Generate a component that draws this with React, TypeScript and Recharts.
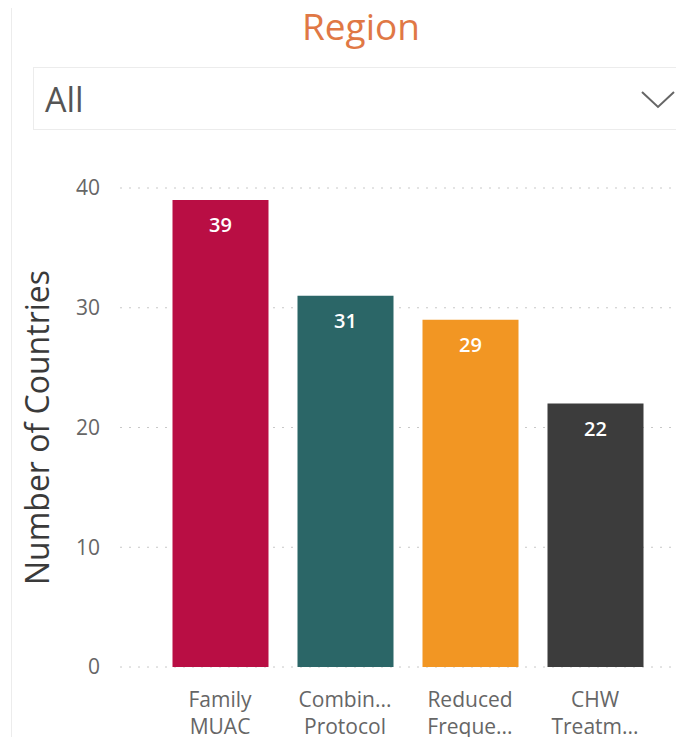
import React from "react";
import { BarChart, Bar, XAxis, YAxis, CartesianGrid, LabelList, Cell, Label } from "recharts";

const categories = ["Family MUAC", "Combin... Protocol", "Reduced Freque...", "CHW Treatm..."];
const line1 = ["Family", "Combin...", "Reduced", "CHW"];
const line2 = ["MUAC", "Protocol", "Freque...", "Treatm..."];
const values = [39, 31, 29, 22];
const colors = ["#B90E44", "#2B6667", "#F29623", "#3C3C3C"];
const yTicks = [0, 10, 20, 30, 40];

const data = categories.map((c, i) => ({ name: c, l1: line1[i], l2: line2[i], value: values[i] }));

const FONT = "'Open Sans', 'Noto Sans', sans-serif";

const XTick = (props: any) => {
  const { x, y, payload, index } = props;
  const d = data[index] || data.find((r) => r.name === payload.value);
  return (
    <g transform={`translate(${x},${y})`}>
      <text textAnchor="middle" fill="#666" fontSize={21} fontFamily={FONT}>
        <tspan x={0} y={32}>{d ? d.l1 : ""}</tspan>
        <tspan x={0} y={59}>{d ? d.l2 : ""}</tspan>
      </text>
    </g>
  );
};

export default function App() {
  return (
    <div style={{ position: "relative", width: 684, height: 745, margin: -8, background: "#fff", overflow: "hidden", fontFamily: FONT }}>
      <div style={{ position: "absolute", left: 0, top: 0, width: 3, height: 690, background: "#cfcfcf" }} />
      <div style={{ position: "absolute", left: 11, top: 0, width: 1, height: 745, background: "#ececec" }} />
      <div style={{ position: "absolute", left: 0, top: 4, width: 684, paddingLeft: 38, boxSizing: "border-box", textAlign: "center", color: "#E07845", fontSize: 37, lineHeight: "44px" }}>
        Region
      </div>
      <div style={{ position: "absolute", left: 33, top: 67, width: 700, height: 63, border: "1px solid #ececec", boxSizing: "border-box" }}>
        <div style={{ position: "absolute", left: 11, top: 8, fontSize: 34, color: "#555", lineHeight: "46px" }}>All</div>
        <svg style={{ position: "absolute", left: 606, top: 22 }} width={36} height={20}>
          <polyline points="2,2 18,17 34,2" fill="none" stroke="#666" strokeWidth={2} />
        </svg>
      </div>
      <div style={{ position: "absolute", left: 0, top: 0 }}>
        <BarChart width={684} height={745} data={data} margin={{ top: 188, right: 0, bottom: 0, left: 0 }}>
          <CartesianGrid vertical={false} stroke="#c8c8c8" strokeDasharray="2 7" />
          <XAxis
            dataKey="name"
            axisLine={false}
            tickLine={false}
            interval={0}
            padding={{ left: 37.5, right: 26.5 }}
            tick={<XTick />}
            height={78}
          />
          <YAxis
            domain={[0, 40]}
            ticks={yTicks}
            axisLine={false}
            tickLine={false}
            tickSize={0}
            tickMargin={20}
            width={120}
            tick={{ fill: "#666", fontSize: 21, fontFamily: FONT }}
          >
            <Label
              value="Number of Countries"
              angle={-90}
              position="insideLeft"
              offset={38}
              style={{ textAnchor: "middle", fill: "#3a3a3a", fontSize: 32, fontFamily: FONT }}
            />
          </YAxis>
          <Bar dataKey="value" barSize={96} isAnimationActive={false}>
            {data.map((d, i) => (
              <Cell key={d.name} fill={colors[i]} />
            ))}
            <LabelList dataKey="value" position="insideTop" offset={18} fill="#fff" fontSize={20} fontWeight={600} fontFamily={FONT} />
          </Bar>
        </BarChart>
      </div>
    </div>
  );
}
